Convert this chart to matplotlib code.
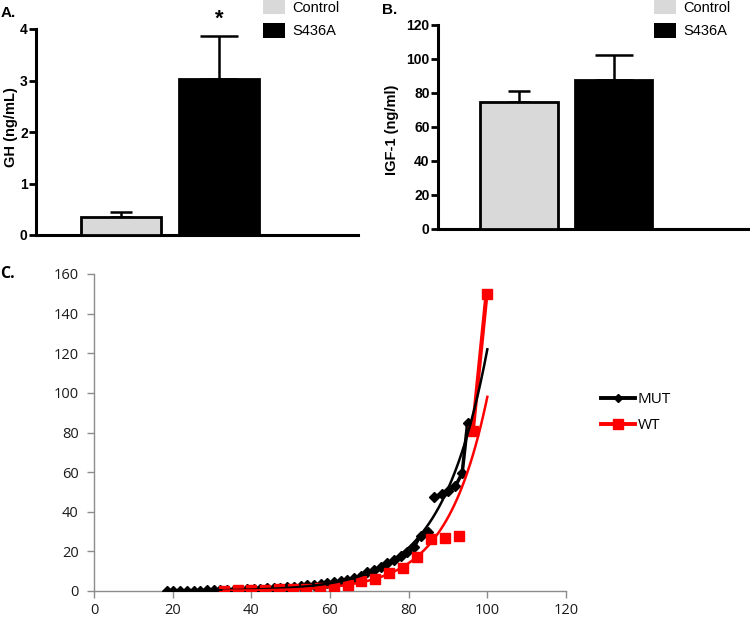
import matplotlib.pyplot as plt
import numpy as np
from matplotlib.patches import Patch
from matplotlib.lines import Line2D

# panel A / B : bar data
groups = ["Control", "S436A"]
bar_colors = ["#d9d9d9", "black"]
gh_mean = [0.35, 3.02]
gh_err = [0.10, 0.85]
igf_mean = [75, 87.5]
igf_err = [6.2, 15]

# panel C : MUT / WT points
mut_x = [18.5, 20.2, 21.9, 23.6, 25.3, 27.0, 28.7, 30.4, 32.1, 33.8, 35.5, 37.2,
         38.9, 40.6, 42.3, 44.0, 45.7, 47.4, 49.1, 50.8, 52.5, 54.2, 55.9, 57.6,
         59.3, 61.0, 62.7, 64.4, 66.1, 67.8, 69.5, 71.2, 72.9, 74.6, 76.3, 78.0,
         79.7, 81.4, 83.1, 84.8, 86.5, 88.5, 90.0, 91.9, 93.6, 95.0, 100.0]
mut_y = [0.1, 0.1, 0.1, 0.1, 0.2, 0.2, 0.3, 0.3, 0.4, 0.5, 0.6, 0.7,
         0.8, 1.0, 1.1, 1.3, 1.5, 1.7, 2.0, 2.2, 2.5, 2.8, 3.1, 3.5,
         3.9, 4.4, 5.0, 5.7, 6.5, 7.8, 9.6, 10.6, 12.0, 14.0, 15.5, 17.7,
         19.7, 22.0, 28.0, 30.0, 47.5, 49.0, 50.5, 53.0, 59.5, 85.0, 150.0]
wt_x = [33.0, 36.5, 40.0, 43.5, 47.0, 50.5, 54.0, 57.5, 61.0, 64.5, 68.0, 71.5,
        75.0, 78.6, 82.2, 85.8, 89.3, 92.8, 96.3, 99.8]
wt_y = [0.2, 0.3, 0.3, 0.6, 0.8, 0.8, 1.0, 1.5, 2.0, 3.0, 5.0, 6.0,
        9.0, 11.5, 17.0, 26.0, 27.0, 28.0, 81.0, 150.0]
# exponential trend lines: (value at x=100, growth rate)
mut_trend = (122, 0.086)
wt_trend = (98, 0.097)

plt.rcParams['font.family'] = ['Liberation Sans', 'DejaVu Sans']

fig = plt.figure(figsize=(7.5, 6.19), dpi=100)
W, H = 750, 619


def box(l, t, r, b):
    return [l / W, 1 - b / H, (r - l) / W, (b - t) / H]


def bar_panel(rect, means, errs, caps, ticks, xlim):
    ax = fig.add_axes(rect)
    x = [1, 2]
    ax.bar(x, means, width=0.82, color=bar_colors, edgecolor="black", linewidth=2, zorder=3)
    for xi, m, e, c in zip(x, means, errs, caps):
        ax.errorbar(xi, m, yerr=[[0], [e]], fmt="none", ecolor="black",
                    elinewidth=1.8, capsize=c, capthick=1.8, zorder=2)
    ax.set_xlim(*xlim)
    ax.set_ylim(ticks[0], ticks[-1])
    ax.set_yticks(ticks)
    ax.set_xticks([])
    for s in ["top", "right"]:
        ax.spines[s].set_visible(False)
    for s in ["left", "bottom"]:
        ax.spines[s].set_linewidth(2.2)
    ax.tick_params(axis="y", width=2, length=5, labelsize=10, pad=1)
    for lb in ax.get_yticklabels():
        lb.set_fontweight("bold")
    return ax


axA = bar_panel(box(36, 29, 358, 235), gh_mean, gh_err, [8, 14], [0, 1, 2, 3, 4],
                (0.133, 3.42))
axA.text(2, 4.19, "*", ha="center", va="center", fontsize=16, fontweight="bold")
axB = bar_panel(box(438, 25, 748, 229), igf_mean, igf_err, [8, 14], list(range(0, 121, 20)),
                (0.143, 3.42))

fig.text(11 / W, 1 - 127 / H, "GH (ng/mL)", rotation=90, ha="center", va="center",
         fontsize=10.5, fontweight="bold")
fig.text(392 / W, 1 - 130 / H, "IGF-1 (ng/ml)", rotation=90, ha="center", va="center",
         fontsize=10.5, fontweight="bold")
fig.text(1 / W, 1 - 13 / H, "A.", ha="left", va="center", fontsize=11, fontweight="bold")
fig.text(382 / W, 1 - 10 / H, "B.", ha="left", va="center", fontsize=11, fontweight="bold")

handles = [Patch(facecolor=c, edgecolor="none") for c in bar_colors]
for xpos in [263, 654]:
    fig.legend(handles, groups, loc="upper left", bbox_to_anchor=(xpos / W, 1.0),
               frameon=False, fontsize=10.5, borderpad=0, borderaxespad=0,
               handlelength=1.5, handleheight=1.15, handletextpad=0.5, labelspacing=0.55)

# panel C
axC = fig.add_axes(box(94, 274, 566, 591))
axC.plot(mut_x, mut_y, color="black", lw=0, marker="D", ms=5, zorder=3)
# connecting line only where it shows in the original
axC.plot(mut_x[:40], mut_y[:40], color="black", lw=2, zorder=3)
axC.plot(mut_x[40:46], mut_y[40:46], color="black", lw=2.5, zorder=3)
axC.plot(wt_x, wt_y, color="red", lw=0, marker="s", ms=6.5, zorder=4)
axC.plot(wt_x[-2:], wt_y[-2:], color="red", lw=3, zorder=4)

tx = np.linspace(mut_x[0], 100, 200)
axC.plot(tx, mut_trend[0] * np.exp(mut_trend[1] * (tx - 100)), color="black", lw=1.8, zorder=5)
tx = np.linspace(wt_x[0], 100, 200)
axC.plot(tx, wt_trend[0] * np.exp(wt_trend[1] * (tx - 100)), color="red", lw=1.8, zorder=5)

axC.set_xlim(0, 120)
axC.set_ylim(0, 160)
axC.set_xticks(range(0, 121, 20))
axC.set_yticks(range(0, 161, 20))
for s in ["top", "right"]:
    axC.spines[s].set_visible(False)
for s in ["left", "bottom"]:
    axC.spines[s].set_color("#8c8c8c")
    axC.spines[s].set_linewidth(1)
axC.tick_params(color="#8c8c8c", length=5, width=1, labelsize=10.5, labelcolor="#1a1a1a")
for lb in axC.get_xticklabels() + axC.get_yticklabels():
    lb.set_family(["Open Sans", "DejaVu Sans"])
axC.tick_params(axis="y", pad=6)
axC.tick_params(axis="x", pad=4)

fig.text(0 / W, 1 - 274 / H, "C.", ha="left", va="center", fontsize=11.5,
         fontweight="bold", family=["Open Sans", "DejaVu Sans"])

leg_handles = [Line2D([], [], color="black", lw=2.8, marker="D", ms=4),
               Line2D([], [], color="red", lw=2.8, marker="s", ms=6.5)]
legC = fig.legend(leg_handles, ["MUT", "WT"], loc="upper left",
                  bbox_to_anchor=(601 / W, 1 - 392 / H), frameon=False,
                  prop={"family": ["Open Sans", "DejaVu Sans"], "size": 11},
                  borderpad=0, borderaxespad=0, handlelength=2.2, handletextpad=0.2,
                  labelspacing=0.75, numpoints=1)

fig.savefig("out.png", dpi=100)
